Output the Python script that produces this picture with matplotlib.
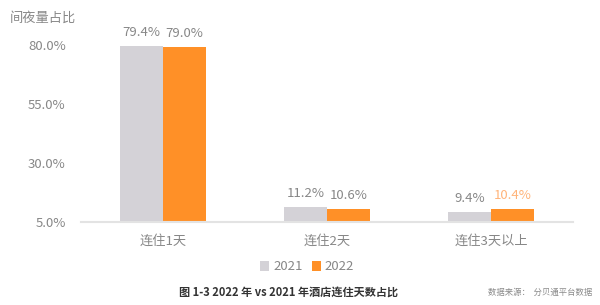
import matplotlib
matplotlib.use("Agg")
import matplotlib.pyplot as plt
import numpy as np

plt.rcParams['font.family'] = ['Noto Sans CJK SC', 'DejaVu Sans']

categories = ['连住1天', '连住2天', '连住3天以上']
series_names = ['2021', '2022']
values_2021 = [79.4, 11.2, 9.4]
values_2022 = [79.0, 10.6, 10.4]
y_ticks = [5.0, 30.0, 55.0, 80.0]

gray = '#D4D2D7'
orange = '#FF9027'
text_gray = '#878787'
label_colors_2022 = [text_gray, text_gray, '#FFB47A']

W, H = 600, 305
fig = plt.figure(figsize=(W / 100, H / 100), dpi=100)
ax = fig.add_axes([81 / W, (H - 222) / H, (573 - 81) / W, (222 - 45) / H])

x = np.arange(len(categories))
bw = 43 / 164
base = y_ticks[0]
b1 = ax.bar(x - bw / 2, np.array(values_2021) - base, bw, bottom=base, color=gray, label=series_names[0])
b2 = ax.bar(x + bw / 2, np.array(values_2022) - base, bw, bottom=base, color=orange, label=series_names[1])

for i, v in enumerate(values_2021):
    ax.annotate(f'{v:.1f}%', (x[i] - bw / 2, v), xytext=(0, 5), textcoords='offset points',
                ha='center', va='bottom', fontsize=9.5, color=text_gray)
for i, v in enumerate(values_2022):
    ax.annotate(f'{v:.1f}%', (x[i] + bw / 2, v), xytext=(0, 5), textcoords='offset points',
                ha='center', va='bottom', fontsize=9.5, color=label_colors_2022[i])

ax.set_xlim(-0.5, 2.5)
ax.set_ylim(5, 80)
ax.set_yticks(y_ticks)
ax.set_yticklabels([f'{t:.1f}%' for t in y_ticks])
ax.set_xticks(x)
ax.set_xticklabels(categories)
ax.tick_params(axis='y', length=0, pad=11, labelsize=9.5, labelcolor=text_gray)
ax.tick_params(axis='x', length=0, pad=9, labelsize=9.5, labelcolor=text_gray)
for s in ['top', 'right', 'left']:
    ax.spines[s].set_visible(False)
ax.spines['bottom'].set_color('#E3E3E3')
ax.spines['bottom'].set_linewidth(1.5)

fig.text(10 / W, 1 - 18 / H, '间夜量占比', fontsize=9.5, color=text_gray, ha='left', va='center')

fig.legend(handles=[b1, b2], labels=series_names, loc='center', bbox_to_anchor=(307 / W, 1 - 267 / H),
           ncol=2, frameon=False, fontsize=9.5, handlelength=0.7, handleheight=0.7,
           handletextpad=0.3, columnspacing=0.7, labelcolor=text_gray)

fig.text(289 / W, 1 - 292 / H, '图 1-3 2022 年 vs 2021 年酒店连住天数占比', fontsize=8,
         fontweight='bold', color='#333333', ha='center', va='center')
fig.text(592 / W, 1 - 292 / H, '数据来源：  分贝通平台数据', fontsize=6, color='#8A8A8A',
         ha='right', va='center')

fig.savefig('out.png', dpi=100)
